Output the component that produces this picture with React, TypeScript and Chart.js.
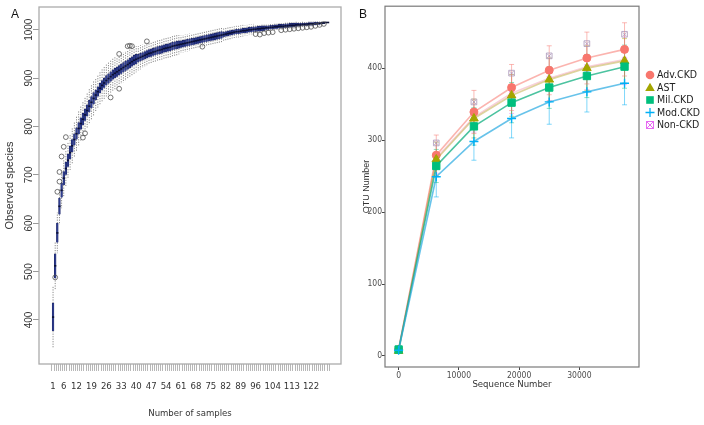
import React, { useEffect, useRef } from "react";
import { Chart, registerables } from "chart.js";

Chart.register(...registerables);

// ---------- Panel A data (species accumulation boxplots) ----------
const sampleTickLabels = [1, 6, 12, 19, 26, 33, 40, 47, 54, 61, 68, 75, 82, 89, 96, 104, 113, 122];
const speciesTicks = [400, 500, 600, 700, 800, 900, 1000];

const observedMedian = [
  406, 512, 580, 635, 668, 693, 713, 730, 746, 760,
  773, 785, 796, 806, 815, 824, 833, 842, 850, 858,
  865, 872, 879, 885, 890, 895, 899, 903, 907, 910,
  913, 916, 919, 922, 925, 928, 931, 934, 937, 939,
  941, 943, 945, 947, 949, 951, 952, 954, 955, 957,
  958, 959, 961, 962, 963, 964, 966, 967, 968, 969,
  970, 971, 972, 973, 974, 975, 976, 977, 978, 979,
  980, 981, 982, 983, 984, 985, 986, 987, 988, 989,
  990, 991, 992, 993, 994, 995, 996, 996, 997, 998,
  998, 999, 1000, 1000, 1001, 1001, 1002, 1002, 1003, 1003,
  1004, 1004, 1005, 1005, 1006, 1006, 1007, 1007, 1007, 1008,
  1008, 1009, 1009, 1009, 1010, 1010, 1010, 1011, 1011, 1011,
  1012, 1012, 1012, 1013, 1013, 1013, 1014, 1014, 1015, 1015,
];

const boxHalf = [
  29, 25, 20, 17, 15, 14, 13, 13, 13, 13,
  12, 12, 12, 12, 12, 12, 12, 12, 12, 12,
  10, 10, 10, 10, 10, 10, 10, 10, 10, 10,
  10, 10, 10, 10, 10, 10, 10, 10, 10, 10,
  8, 8, 8, 8, 8, 8, 8, 8, 8, 8,
  8, 8, 8, 8, 8, 8, 8, 8, 8, 8,
  7, 7, 7, 7, 7, 7, 7, 7, 7, 7,
  7, 7, 7, 7, 7, 7, 7, 7, 7, 7,
  5, 5, 5, 5, 5, 5, 5, 5, 5, 5,
  5, 5, 5, 5, 5, 5, 5, 5, 5, 5,
  4, 4, 4, 4, 4, 4, 4, 4, 4, 4,
  4, 4, 4, 4, 4, 3, 3, 3, 3, 3,
  3, 3, 3, 3, 3, 2, 2, 1, 1, 0,
];

const whiskerHalf = [
  64, 50, 42, 38, 37, 37, 36, 36, 36, 36,
  36, 36, 36, 36, 36, 36, 36, 36, 36, 36,
  33, 33, 33, 33, 33, 33, 33, 33, 33, 33,
  31, 31, 31, 31, 31, 30, 30, 29, 28, 27,
  25, 25, 24, 24, 24, 23, 23, 23, 23, 23,
  23, 23, 22, 22, 22, 22, 21, 21, 21, 20,
  18, 18, 18, 18, 18, 17, 17, 17, 17, 17,
  17, 17, 16, 16, 16, 16, 16, 15, 15, 15,
  13, 13, 13, 13, 12, 12, 12, 12, 12, 12,
  11, 11, 11, 11, 11, 10, 10, 10, 10, 10,
  9, 9, 9, 9, 8, 8, 8, 8, 8, 8,
  8, 7, 7, 7, 7, 6, 6, 6, 5, 5,
  5, 5, 5, 4, 4, 4, 3, 2, 1, 0,
];

const outlierSample = [
  2, 3, 4, 4, 5, 6, 7, 15, 16, 28, 32, 32, 36, 37, 38, 45, 71,
  96, 98, 100, 102, 104, 108, 110, 112, 114, 116, 118, 120, 122, 124, 126, 128,
];
const outlierValue = [
  488, 665, 686, 706, 738, 758, 778, 777, 786, 860, 878, 950, 966, 967, 966, 976, 965,
  991, 990, 993, 994, 995, 999, 1000, 1001, 1002, 1003, 1004, 1005, 1006, 1008, 1010, 1012,
];

// ---------- Panel B data (rarefaction curves) ----------
const seqNumber = [0, 6250, 12500, 18750, 25000, 31250, 37500];
const seqTicks = [0, 10000, 20000, 30000];
const otuTicks = [0, 100, 200, 300, 400];
const groupNames = ["Adv.CKD", "AST", "Mil.CKD", "Mod.CKD", "Non-CKD"];
const advCKD = [9, 279, 339, 373, 397, 414, 426];
const astGroup = [7, 273, 330, 362, 384, 400, 410];
const milCKD = [9, 264, 319, 352, 373, 389, 402];
const modCKD = [8, 249, 298, 330, 353, 367, 379];
const nonCKD = [10, 275, 332, 365, 386, 402, 412];
const advSD = [2, 28, 30, 32, 34, 36, 37];
const astSD = [2, 24, 27, 29, 30, 31, 31];
const milSD = [2, 23, 26, 28, 29, 30, 30];
const modSD = [2, 28, 26, 27, 31, 28, 30];
const nonSD = [2, 21, 21, 28, 31, 32, 35];

const NARROW = '"Liberation Sans Narrow", "Arial Narrow", "DejaVu Sans Condensed", sans-serif';
const SANS = '"Liberation Sans", Arial, sans-serif';

const framePlugin = (id: string, color: string, width: number, letter: string, lx: number, ly: number) => ({
  id,
  afterDraw(chart: any) {
    const { ctx, chartArea } = chart;
    const { left, top, right, bottom } = chartArea;
    ctx.save();
    ctx.strokeStyle = color;
    ctx.lineWidth = width;
    ctx.strokeRect(left, top, right - left, bottom - top);
    ctx.fillStyle = "#111";
    ctx.font = `12px ${SANS}`;
    ctx.textAlign = "center";
    ctx.textBaseline = "middle";
    ctx.fillText(letter, lx, ly);
    ctx.restore();
  },
});

type Group = {
  name: string;
  values: number[];
  sd: number[];
  color: string;
  line: string;
  err: string;
  style: string;
  radius: number;
};

const groups: Group[] = [
  { name: groupNames[0], values: advCKD, sd: advSD, color: "#F8766D", line: "rgba(248,118,109,0.55)", err: "rgba(248,118,109,0.5)", style: "circle", radius: 4 },
  { name: groupNames[1], values: astGroup, sd: astSD, color: "#A3A500", line: "rgba(190,170,60,0.5)", err: "rgba(163,165,0,0.45)", style: "triangle", radius: 5 },
  { name: groupNames[2], values: milCKD, sd: milSD, color: "#00BF7D", line: "rgba(0,170,120,0.7)", err: "rgba(0,191,125,0.45)", style: "rect", radius: 5.2 },
  { name: groupNames[3], values: modCKD, sd: modSD, color: "#00B0F6", line: "rgba(40,170,225,0.7)", err: "rgba(0,176,246,0.5)", style: "cross", radius: 4.5 },
  { name: groupNames[4], values: nonCKD, sd: nonSD, color: "#E76BF3", line: "rgba(240,150,170,0.45)", err: "rgba(231,107,243,0.45)", style: "rect", radius: 4 },
];

const legendPlugin = {
  id: "customLegendB",
  afterDraw(chart: any) {
    const ctx = chart.ctx;
    const mx = 298;
    const tx = 305;
    const ys = [75, 87.5, 100, 112.5, 125];
    ctx.save();
    groups.forEach((g, i) => {
      const y = ys[i];
      ctx.fillStyle = g.color;
      ctx.strokeStyle = g.color;
      if (i === 0) {
        ctx.beginPath();
        ctx.arc(mx, y, 4.3, 0, Math.PI * 2);
        ctx.fill();
      } else if (i === 1) {
        ctx.beginPath();
        ctx.moveTo(mx, y - 4.8);
        ctx.lineTo(mx + 4.8, y + 3.6);
        ctx.lineTo(mx - 4.8, y + 3.6);
        ctx.closePath();
        ctx.fill();
      } else if (i === 2) {
        ctx.fillRect(mx - 3.8, y - 3.8, 7.6, 7.6);
      } else if (i === 3) {
        ctx.lineWidth = 1.3;
        ctx.beginPath();
        ctx.moveTo(mx - 4.5, y);
        ctx.lineTo(mx + 4.5, y);
        ctx.moveTo(mx, y - 4.5);
        ctx.lineTo(mx, y + 4.5);
        ctx.stroke();
      } else {
        ctx.lineWidth = 1;
        ctx.strokeRect(mx - 3.5, y - 3.5, 7, 7);
        ctx.beginPath();
        ctx.moveTo(mx - 3.5, y - 3.5);
        ctx.lineTo(mx + 3.5, y + 3.5);
        ctx.moveTo(mx + 3.5, y - 3.5);
        ctx.lineTo(mx - 3.5, y + 3.5);
        ctx.stroke();
      }
      ctx.fillStyle = "#222";
      ctx.font = `10.5px ${NARROW}`;
      ctx.textAlign = "left";
      ctx.textBaseline = "middle";
      ctx.fillText(g.name, tx, y + 0.5);
    });
    ctx.restore();
  },
};

export default function App() {
  const refA = useRef<HTMLCanvasElement | null>(null);
  const refB = useRef<HTMLCanvasElement | null>(null);

  useEffect(() => {
    const samples = observedMedian.map((_, i) => i + 1);
    const boxData = samples.map((s, i) => ({
      x: s,
      y: [observedMedian[i] - boxHalf[i], observedMedian[i] + boxHalf[i]],
    }));
    const medianData = samples.map((s, i) => ({ x: s, y: observedMedian[i] }));
    const whiskerData: any[] = [];
    samples.forEach((s, i) => {
      const m = observedMedian[i];
      whiskerData.push(
        { x: s, y: m + boxHalf[i] },
        { x: s, y: m + whiskerHalf[i] },
        { x: s, y: null },
        { x: s, y: m - boxHalf[i] },
        { x: s, y: m - whiskerHalf[i] },
        { x: s, y: null }
      );
    });
    const outlierData = outlierSample.map((s, i) => ({ x: s, y: outlierValue[i] }));

    const chartA = new Chart(refA.current as HTMLCanvasElement, {
      type: "bar",
      data: {
        datasets: [
          {
            type: "line",
            data: whiskerData,
            borderColor: "#8a8a8a",
            borderWidth: 1,
            borderDash: [1.2, 1.3],
            pointRadius: 0,
            spanGaps: false,
            order: 3,
          } as any,
          {
            type: "bar",
            data: boxData,
            backgroundColor: "#2f3e90",
            borderColor: "#1a2366",
            borderWidth: 0.6,
            barThickness: 1.8,
            order: 2,
          } as any,
          {
            type: "scatter",
            data: medianData,
            pointStyle: "line",
            pointRadius: 1.1,
            pointBorderColor: "#0a0f33",
            pointBorderWidth: 1.6,
            order: 1,
          } as any,
          {
            type: "scatter",
            data: outlierData,
            pointStyle: "circle",
            pointRadius: 2.4,
            pointBackgroundColor: "rgba(0,0,0,0)",
            pointBorderColor: "#505050",
            pointBorderWidth: 0.8,
            order: 0,
          } as any,
        ],
      },
      options: {
        animation: false,
        responsive: false,
        devicePixelRatio: 1,
        layout: { padding: { left: 0, right: 11, top: 7, bottom: 0 } },
        plugins: { legend: { display: false }, tooltip: { enabled: false } },
        scales: {
          x: {
            type: "linear",
            min: -5.05,
            max: 135.5,
            afterBuildTicks: (s: any) => {
              s.ticks = samples.map((v) => ({ value: v }));
            },
            afterFit: (s: any) => {
              s.height = 61;
            },
            grid: { drawOnChartArea: false, drawTicks: true, tickLength: 7, color: "#9a9a9a", lineWidth: 0.7 },
            border: { display: false },
            ticks: {
              autoSkip: false,
              maxRotation: 0,
              minRotation: 0,
              padding: 10,
              color: "#333",
              font: { family: NARROW, size: 9.5 },
              callback: (v: any) => (sampleTickLabels.includes(Number(v)) ? String(v) : ""),
            },
            title: {
              display: true,
              text: "Number of samples",
              color: "#333",
              font: { family: NARROW, size: 9.5 },
              padding: { top: 0, bottom: 6 },
            },
          },
          y: {
            type: "linear",
            min: 309,
            max: 1047,
            afterBuildTicks: (s: any) => {
              s.ticks = speciesTicks.map((v) => ({ value: v }));
            },
            afterFit: (s: any) => {
              s.width = 39;
            },
            grid: { drawOnChartArea: false, drawTicks: true, tickLength: 6, color: "#9a9a9a" },
            border: { display: false },
            ticks: {
              minRotation: 90,
              maxRotation: 90,
              crossAlign: "center",
              padding: -7,
              color: "#333",
              font: { family: SANS, size: 10 },
              callback: (v: any) => String(v),
            },
            title: {
              display: true,
              text: "Observed species",
              color: "#333",
              font: { family: SANS, size: 11 },
              padding: { top: 3, bottom: 0 },
            },
          },
        },
      } as any,
      plugins: [framePlugin("frameA", "#ababab", 1.3, "A", 15, 15)],
    });

    const dsB: any[] = [];
    groups.forEach((g, gi) => {
      const errSeg: any[] = [];
      const caps: any[] = [];
      seqNumber.forEach((x, i) => {
        errSeg.push({ x, y: g.values[i] - g.sd[i] }, { x, y: g.values[i] + g.sd[i] }, { x, y: null });
        caps.push({ x, y: g.values[i] - g.sd[i] });
        if (gi !== 4) caps.push({ x, y: g.values[i] + g.sd[i] });
      });
      dsB.push({
        type: "line",
        data: errSeg,
        borderColor: g.err,
        borderWidth: 1,
        pointRadius: 0,
        spanGaps: false,
        order: 20 + gi,
      });
      dsB.push({
        type: "scatter",
        data: caps,
        pointStyle: "line",
        pointRadius: 2.5,
        pointBorderColor: g.err,
        pointBorderWidth: 1,
        order: 20 + gi,
      });
      if (gi === 4) {
        const topCaps = seqNumber.map((x, i) => ({ x, y: g.values[i] + g.sd[i] }));
        dsB.push({
          type: "scatter",
          data: topCaps.slice(1),
          pointStyle: "rect",
          pointRadius: 4,
          pointBackgroundColor: "rgba(0,0,0,0)",
          pointBorderColor: "rgba(170,150,185,0.8)",
          pointBorderWidth: 1,
          order: 19,
        });
        dsB.push({
          type: "scatter",
          data: topCaps.slice(1),
          pointStyle: "crossRot",
          pointRadius: 2.8,
          pointBorderColor: "rgba(170,150,185,0.8)",
          pointBorderWidth: 1,
          order: 19,
        });
      }
      dsB.push({
        type: "line",
        label: g.name,
        data: seqNumber.map((x, i) => ({ x, y: g.values[i] })),
        borderColor: g.line,
        borderWidth: 1.6,
        pointStyle: g.style,
        pointRadius: gi === 4 ? 3 : g.radius,
        pointBackgroundColor: gi === 4 ? "rgba(0,0,0,0)" : g.color,
        pointBorderColor: gi === 4 ? "rgba(231,107,243,0.5)" : g.color,
        pointBorderWidth: gi === 3 ? 1.4 : 1,
        order: gi === 4 ? 10 : 5 - gi,
      });
    });

    const chartB = new Chart(refB.current as HTMLCanvasElement, {
      type: "scatter",
      data: { datasets: dsB },
      options: {
        animation: false,
        responsive: false,
        devicePixelRatio: 1,
        layout: { padding: { left: 0, right: 65, top: 6, bottom: 0 } },
        plugins: { legend: { display: false }, tooltip: { enabled: false } },
        scales: {
          x: {
            type: "linear",
            min: -2260,
            max: 39900,
            afterBuildTicks: (s: any) => {
              s.ticks = seqTicks.map((v) => ({ value: v }));
            },
            afterFit: (s: any) => {
              s.height = 58;
            },
            grid: { drawOnChartArea: false, drawTicks: true, tickLength: 3, color: "#444" },
            border: { display: false },
            ticks: {
              maxRotation: 0,
              minRotation: 0,
              padding: 1,
              color: "#4d4d4d",
              font: { family: NARROW, size: 8.5 },
              callback: (v: any) => String(v),
            },
            title: {
              display: true,
              text: "Sequence Number",
              color: "#333",
              font: { family: NARROW, size: 9.5 },
              padding: { top: 0, bottom: 35 },
            },
          },
          y: {
            type: "linear",
            min: -15.3,
            max: 486,
            afterBuildTicks: (s: any) => {
              s.ticks = otuTicks.map((v) => ({ value: v }));
            },
            afterFit: (s: any) => {
              s.width = 33;
            },
            grid: { drawOnChartArea: false, drawTicks: true, tickLength: 3, color: "#444" },
            border: { display: false },
            ticks: {
              padding: 0,
              color: "#4d4d4d",
              font: { family: NARROW, size: 8.5 },
              callback: (v: any) => String(v),
            },
            title: {
              display: true,
              text: "OTU Number",
              color: "#333",
              font: { family: SANS, size: 9 },
              padding: { top: 9, bottom: 0 },
            },
          },
        },
      } as any,
      plugins: [framePlugin("frameB", "#7a7a7a", 1.2, "B", 11, 15), legendPlugin],
    });

    return () => {
      chartA.destroy();
      chartB.destroy();
    };
  }, []);

  return (
    <div style={{ position: "fixed", left: 0, top: 0, width: 704, height: 425, background: "#fff" }}>
      <canvas
        ref={refA}
        width={352}
        height={425}
        style={{ position: "absolute", left: 0, top: 0, width: 352, height: 425 }}
      />
      <canvas
        ref={refB}
        width={352}
        height={425}
        style={{ position: "absolute", left: 352, top: 0, width: 352, height: 425 }}
      />
    </div>
  );
}
